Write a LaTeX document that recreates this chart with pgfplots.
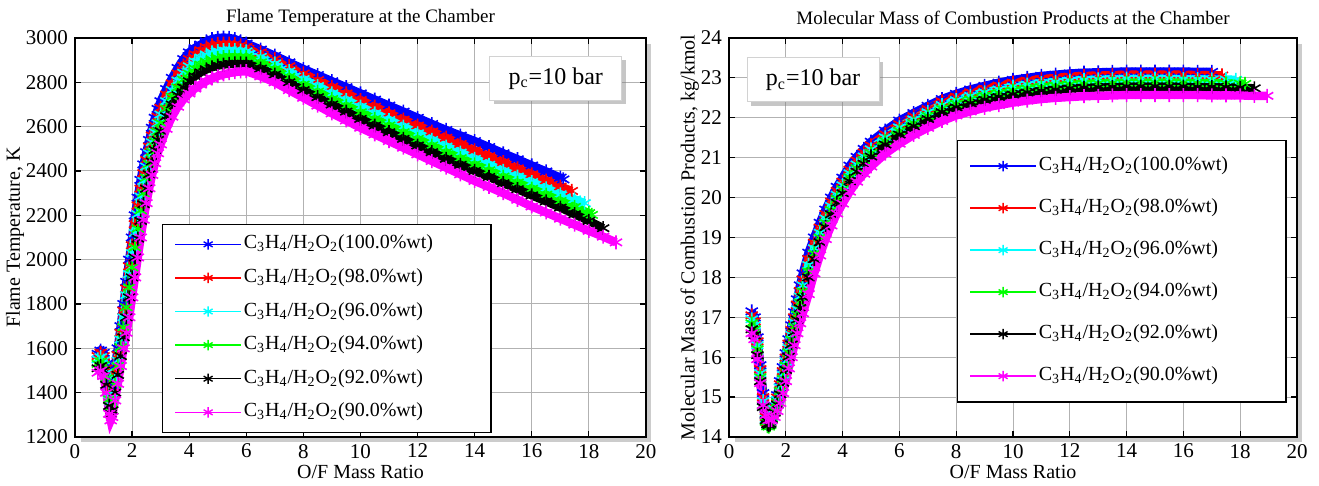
\documentclass[border=0pt]{standalone}
\usepackage{fontspec}
\setmainfont{Liberation Serif}
\usepackage{pgfplots}
\pgfplotsset{compat=1.18}
\usetikzlibrary{shadows}
\definecolor{mblue}{rgb}{0,0,1}
\definecolor{mred}{rgb}{1,0,0}
\definecolor{mcyan}{rgb}{0,1,1}
\definecolor{mgreen}{rgb}{0,1,0}
\definecolor{mblack}{rgb}{0,0,0}
\definecolor{mmag}{rgb}{1,0,1}
\newcommand{\ent}[1]{C\textsubscript{3}H\textsubscript{4}/H\textsubscript{2}O\textsubscript{2}(#1\%wt)\hspace*{22pt}}
\tikzset{frameshadow/.style={gray!40, line width=2pt}}
\pgfplotsset{
  oxstyle/.style={
    scale only axis, width=285.5pt, height=199.5pt,
    xmin=0, xmax=20, xtick={0,2,...,20},
    grid=major, grid style={gray!60, line width=0.5pt},
    axis line style={line width=0.8pt},
    tick style={black, line width=0.6pt},
    major tick length=3pt,
    tick label style={font=\fontsize{10.5}{11}\selectfont},
    /pgf/number format/assume math mode=true,
    /pgf/number format/1000 sep={},
    label style={font=\fontsize{10}{11}\selectfont},
    every axis title shift=0pt,
    title style={font=\fontsize{9.5}{10}\selectfont, at={(axis description cs:0.5,1.05)}, anchor=center},
    xlabel style={at={(axis description cs:0.5,-0.088)}, anchor=center},
    clip=false,
    every axis plot/.append style={line width=4.2pt, mark=asterisk, mark size=3.5pt, mark options={line width=0.8pt}},
    legend cell align=left,
    legend image code/.code={\draw[#1, line width=0.75pt, mark=none] (0pt,0pt) -- (33pt,0pt); \draw[#1, line width=0.75pt, mark size=2.6pt, mark options={line width=0.7pt}] plot coordinates {(16.5pt,0pt)};},
  },
}
\begin{document}
\begin{tikzpicture}
\path[use as bounding box] (-37.5pt,-24.5pt) rectangle (622pt,218.5pt);
\begin{axis}[oxstyle, at={(0pt,0pt)}, anchor=south west,
  ymin=1200, ymax=3000, ytick={1200,1400,...,3000},
  title={Flame Temperature at the Chamber},
  xlabel={O/F Mass Ratio}, ylabel={Flame Temperature, K},
  ylabel style={at={(axis description cs:-0.105,0.5)}, anchor=center},
  legend style={at={(axis description cs:0.152,0.534)}, anchor=north west, draw=black, line width=0.6pt, fill=white,
    font=\fontsize{10}{11}\selectfont, row sep=5pt, inner xsep=6pt, inner ysep=4pt,
    nodes={inner sep=1pt, text height=7.2pt, text depth=2.6pt}},
]
\draw[frameshadow] ([xshift=1.6pt,yshift=-3pt]rel axis cs:1,1) -- ([xshift=1.6pt,yshift=-1.6pt]rel axis cs:1,0) -- ([xshift=3pt,yshift=-1.6pt]rel axis cs:0,0);
\addplot[color=mblue] coordinates {
(0.8,1575)(0.9,1590)(1.0,1580)(1.1,1530)(1.2,1450)(1.25,1410)(1.3,1430)(1.4,1520)(1.5,1600)(1.6,1700)(1.7,1800)(1.8,1900)(1.9,2000)(2.0,2100)(2.1,2200)(2.2,2280)(2.3,2360)(2.4,2430)(2.5,2485)(2.6,2540)(2.7,2595)(2.8,2640)(2.9,2680)(3.0,2715)(3.2,2770)(3.4,2820)(3.6,2865)(3.8,2905)(4.0,2935)(4.2,2955)(4.4,2970)(4.6,2985)(4.8,2995)(5.0,3000)(5.2,3002)(5.4,3000)(5.6,2995)(5.8,2985)(6.0,2975)
(6.5,2948)(7,2920)(7.5,2890)(8,2860)(8.5,2833)(9,2805)(9.5,2778)(10,2750)(10.5,2722)(11,2695)(11.5,2668)(12,2640)(12.5,2612)(13,2585)(13.5,2560)(14,2535)(14.5,2508)(15,2480)(15.5,2453)(16,2425)(16.5,2398)(17,2370)(17.1,2362)};
\addlegendentry{\ent{100.0}}
\addplot[color=mred] coordinates {
(0.8,1565)(0.9,1580)(1.0,1565)(1.1,1510)(1.2,1420)(1.25,1385)(1.3,1400)(1.4,1490)(1.5,1570)(1.6,1670)(1.7,1770)(1.8,1870)(1.9,1970)(2.0,2065)(2.1,2160)(2.2,2245)(2.3,2320)(2.4,2390)(2.5,2450)(2.6,2510)(2.7,2560)(2.8,2605)(2.9,2645)(3.0,2685)(3.2,2745)(3.4,2795)(3.6,2840)(3.8,2875)(4.0,2905)(4.2,2927)(4.4,2945)(4.6,2958)(4.8,2967)(5.0,2973)(5.2,2975)(5.4,2975)(5.6,2972)(5.8,2967)(6.0,2960)
(6.5,2935)(7,2905)(7.5,2873)(8,2840)(8.5,2810)(9,2780)(9.5,2750)(10,2720)(10.5,2690)(11,2660)(11.5,2632)(12,2605)(12.5,2578)(13,2550)(13.5,2522)(14,2493)(14.5,2467)(15,2440)(15.5,2412)(16,2385)(16.5,2357)(17,2330)(17.4,2310)};
\addlegendentry{\ent{98.0}}
\addplot[color=mcyan] coordinates {
(0.8,1550)(0.9,1560)(1.0,1545)(1.1,1490)(1.2,1395)(1.25,1360)(1.3,1375)(1.4,1460)(1.5,1545)(1.6,1640)(1.7,1740)(1.8,1840)(1.9,1935)(2.0,2030)(2.1,2120)(2.2,2205)(2.3,2285)(2.4,2355)(2.5,2420)(2.6,2480)(2.7,2530)(2.8,2575)(2.9,2615)(3.0,2655)(3.2,2715)(3.4,2765)(3.6,2808)(3.8,2843)(4.0,2872)(4.2,2895)(4.4,2912)(4.6,2925)(4.8,2935)(5.0,2941)(5.2,2945)(5.4,2946)(5.6,2945)(5.8,2943)(6.0,2940)
(6.5,2915)(7,2885)(7.5,2850)(8,2815)(8.5,2783)(9,2750)(9.5,2720)(10,2690)(10.5,2660)(11,2630)(11.5,2600)(12,2570)(12.5,2540)(13,2510)(13.5,2483)(14,2455)(14.5,2428)(15,2400)(15.5,2375)(16,2350)(16.5,2322)(17,2295)(17.5,2272)(17.85,2255)};
\addlegendentry{\ent{96.0}}
\addplot[color=mgreen] coordinates {
(0.8,1530)(0.9,1540)(1.0,1525)(1.1,1465)(1.2,1370)(1.25,1335)(1.3,1350)(1.4,1435)(1.5,1520)(1.6,1605)(1.7,1695)(1.8,1785)(1.9,1875)(2.0,1965)(2.1,2055)(2.2,2140)(2.3,2222)(2.4,2300)(2.5,2370)(2.6,2432)(2.7,2487)(2.8,2535)(2.9,2578)(3.0,2617)(3.2,2682)(3.4,2735)(3.6,2777)(3.8,2812)(4.0,2840)(4.2,2862)(4.4,2880)(4.6,2893)(4.8,2903)(5.0,2910)(5.2,2914)(5.4,2916)(5.6,2916)(5.8,2916)(6.0,2915)
(6.5,2890)(7,2860)(7.5,2825)(8,2790)(8.5,2758)(9,2725)(9.5,2695)(10,2665)(10.5,2635)(11,2605)(11.5,2575)(12,2545)(12.5,2515)(13,2485)(13.5,2458)(14,2430)(14.5,2403)(15,2375)(15.5,2348)(16,2320)(16.5,2293)(17,2265)(17.5,2238)(18,2210)(18.1,2202)};
\addlegendentry{\ent{94.0}}
\addplot[color=mblack] coordinates {
(0.8,1510)(0.9,1520)(1.0,1500)(1.1,1435)(1.2,1340)(1.25,1305)(1.3,1320)(1.4,1400)(1.5,1480)(1.6,1565)(1.7,1650)(1.8,1740)(1.9,1830)(2.0,1920)(2.1,2010)(2.2,2095)(2.3,2175)(2.4,2250)(2.5,2320)(2.6,2385)(2.7,2443)(2.8,2495)(2.9,2540)(3.0,2580)(3.2,2647)(3.4,2700)(3.6,2742)(3.8,2777)(4.0,2805)(4.2,2827)(4.4,2845)(4.6,2858)(4.8,2868)(5.0,2875)(5.2,2880)(5.4,2883)(5.6,2885)(5.8,2885)(6.0,2884)
(6.5,2862)(7,2835)(7.5,2800)(8,2765)(8.5,2733)(9,2700)(9.5,2668)(10,2635)(10.5,2605)(11,2575)(11.5,2545)(12,2515)(12.5,2485)(13,2455)(13.5,2428)(14,2400)(14.5,2373)(15,2345)(15.5,2318)(16,2290)(16.5,2263)(17,2235)(17.5,2205)(18,2175)(18.5,2142)};
\addlegendentry{\ent{92.0}}
\addplot[color=mmag] coordinates {
(0.8,1490)(0.9,1500)(1.0,1475)(1.1,1400)(1.2,1305)(1.25,1275)(1.3,1290)(1.4,1365)(1.5,1440)(1.6,1520)(1.7,1600)(1.8,1670)(1.9,1740)(2.0,1830)(2.1,1920)(2.2,2010)(2.3,2100)(2.4,2180)(2.5,2255)(2.6,2322)(2.7,2382)(2.8,2435)(2.9,2480)(3.0,2520)(3.2,2590)(3.4,2645)(3.6,2690)(3.8,2723)(4.0,2750)(4.2,2772)(4.4,2790)(4.6,2805)(4.8,2818)(5.0,2828)(5.2,2836)(5.4,2842)(5.6,2846)(5.8,2849)(6.0,2850)
(6.5,2827)(7,2800)(7.5,2765)(8,2730)(8.5,2695)(9,2660)(9.5,2628)(10,2595)(10.5,2565)(11,2535)(11.5,2505)(12,2475)(12.5,2445)(13,2415)(13.5,2385)(14,2355)(14.5,2328)(15,2300)(15.5,2270)(16,2240)(16.5,2213)(17,2185)(17.5,2158)(18,2130)(18.5,2104)(18.95,2078)};
\addlegendentry{\ent{90.0}}
\node[draw=gray!35, line width=0.4pt, fill=white, drop shadow={opacity=0.45, shadow xshift=2pt, shadow yshift=-2pt}, minimum width=66pt, minimum height=22pt, font=\fontsize{12}{14}\selectfont] at (rel axis cs:0.842,0.899) {p\textsubscript{c}=10 bar};
\end{axis}
\begin{axis}[oxstyle, at={(327pt,0pt)}, anchor=south west, width=284pt,
  ymin=14, ymax=24, ytick={14,15,...,24},
  title={Molecular Mass of Combustion Products at the Chamber},
  xlabel={O/F Mass Ratio}, ylabel={Molecular Mass of Combustion Products, kg/kmol},
  ylabel style={at={(axis description cs:-0.069,0.5)}, anchor=center},
  legend style={at={(axis description cs:0.401,0.745)}, anchor=north west, draw=black, line width=0.6pt, fill=white,
    font=\fontsize{10}{11}\selectfont, row sep=9.2pt, inner xsep=6pt, inner ysep=7pt,
    nodes={inner sep=1pt, text height=7.2pt, text depth=2.6pt}},
]
\draw[frameshadow] ([xshift=1.6pt,yshift=-3pt]rel axis cs:1,1) -- ([xshift=1.6pt,yshift=-1.6pt]rel axis cs:1,0) -- ([xshift=3pt,yshift=-1.6pt]rel axis cs:0,0);
\addplot[color=mblue] coordinates {
(0.8,17.15)(0.9,17.0)(1.0,16.5)(1.1,15.8)(1.2,15.1)(1.3,14.55)(1.35,14.4)(1.4,14.35)(1.45,14.38)(1.5,14.5)(1.6,14.78)(1.7,15.05)(1.8,15.4)(1.9,15.75)(2.0,16.1)(2.1,16.45)(2.2,16.8)(2.3,17.13)(2.4,17.45)(2.5,17.8)(2.6,18.1)(2.8,18.62)(3.0,19.0)(3.2,19.37)(3.4,19.7)(3.6,20.0)(3.8,20.27)(4.0,20.5)(4.25,20.8)(4.5,21.02)(4.75,21.22)(5.0,21.4)(5.5,21.68)(6.0,21.93)(6.5,22.12)(7.0,22.3)(7.5,22.47)(8.0,22.6)(8.5,22.71)(9.0,22.8)(9.5,22.88)(10,22.95)(10.5,23.0)(11,23.05)(11.5,23.08)(12,23.11)(12.5,23.13)(13,23.14)(13.5,23.15)(14,23.16)(14.5,23.16)(15,23.16)(15.5,23.16)(16,23.16)(16.5,23.15)(17,23.15)};
\addlegendentry{\ent{100.0}}
\addplot[color=mred] coordinates {
(0.8,17.05)(0.9,16.9)(1.0,16.4)(1.1,15.7)(1.2,15.0)(1.3,14.5)(1.35,14.36)(1.4,14.33)(1.45,14.36)(1.5,14.49)(1.6,14.74)(1.7,14.99)(1.8,15.32)(1.9,15.65)(2.0,15.99)(2.1,16.34)(2.2,16.68)(2.3,17.0)(2.4,17.32)(2.5,17.66)(2.6,17.95)(2.8,18.46)(3.0,18.87)(3.2,19.25)(3.4,19.59)(3.6,19.9)(3.8,20.17)(4.0,20.4)(4.25,20.7)(4.5,20.93)(4.75,21.13)(5.0,21.31)(5.5,21.59)(6.0,21.84)(6.5,22.04)(7.0,22.22)(7.5,22.41)(8.0,22.53)(8.5,22.64)(9.0,22.73)(9.5,22.81)(10,22.88)(10.5,22.93)(11,22.97)(11.5,23.0)(12,23.03)(12.5,23.05)(13,23.06)(13.5,23.07)(14,23.08)(14.5,23.08)(15,23.08)(15.5,23.08)(16,23.08)(16.5,23.07)(17,23.07)(17.36,23.06)};
\addlegendentry{\ent{98.0}}
\addplot[color=mcyan] coordinates {
(0.8,16.95)(0.9,16.8)(1.0,16.3)(1.1,15.6)(1.2,14.9)(1.3,14.45)(1.35,14.32)(1.4,14.3)(1.45,14.34)(1.5,14.48)(1.6,14.7)(1.7,14.93)(1.8,15.24)(1.9,15.56)(2.0,15.89)(2.1,16.23)(2.2,16.56)(2.3,16.88)(2.4,17.2)(2.5,17.52)(2.6,17.8)(2.8,18.31)(3.0,18.73)(3.2,19.12)(3.4,19.48)(3.6,19.79)(3.8,20.07)(4.0,20.31)(4.25,20.61)(4.5,20.83)(4.75,21.03)(5.0,21.21)(5.5,21.51)(6.0,21.76)(6.5,21.96)(7.0,22.14)(7.5,22.32)(8.0,22.44)(8.5,22.55)(9.0,22.64)(9.5,22.71)(10,22.78)(10.5,22.83)(11,22.87)(11.5,22.9)(12,22.93)(12.5,22.95)(13,22.96)(13.5,22.97)(14,22.98)(14.5,22.98)(15,22.98)(15.5,22.98)(16,22.97)(16.5,22.97)(17,22.96)(17.5,22.96)(17.85,22.95)};
\addlegendentry{\ent{96.0}}
\addplot[color=mgreen] coordinates {
(0.8,16.85)(0.9,16.7)(1.0,16.2)(1.1,15.5)(1.2,14.8)(1.3,14.38)(1.35,14.27)(1.4,14.26)(1.45,14.3)(1.5,14.46)(1.6,14.65)(1.7,14.87)(1.8,15.15)(1.9,15.46)(2.0,15.79)(2.1,16.12)(2.2,16.44)(2.3,16.76)(2.4,17.07)(2.5,17.37)(2.6,17.65)(2.8,18.15)(3.0,18.6)(3.2,19.0)(3.4,19.37)(3.6,19.69)(3.8,19.97)(4.0,20.21)(4.25,20.51)(4.5,20.74)(4.75,20.94)(5.0,21.12)(5.5,21.42)(6.0,21.67)(6.5,21.87)(7.0,22.05)(7.5,22.23)(8.0,22.35)(8.5,22.46)(9.0,22.55)(9.5,22.62)(10,22.68)(10.5,22.73)(11,22.77)(11.5,22.8)(12,22.83)(12.5,22.85)(13,22.86)(13.5,22.87)(14,22.88)(14.5,22.88)(15,22.88)(15.5,22.88)(16,22.88)(16.5,22.87)(17,22.87)(17.5,22.86)(18,22.86)(18.17,22.85)};
\addlegendentry{\ent{94.0}}
\addplot[color=mblack] coordinates {
(0.8,16.7)(0.9,16.55)(1.0,16.05)(1.1,15.4)(1.2,14.75)(1.3,14.42)(1.35,14.32)(1.4,14.3)(1.45,14.33)(1.5,14.45)(1.6,14.61)(1.7,14.81)(1.8,15.07)(1.9,15.36)(2.0,15.68)(2.1,16.01)(2.2,16.32)(2.3,16.63)(2.4,16.94)(2.5,17.23)(2.6,17.5)(2.8,18.0)(3.0,18.46)(3.2,18.88)(3.4,19.26)(3.6,19.58)(3.8,19.87)(4.0,20.11)(4.25,20.41)(4.5,20.65)(4.75,20.85)(5.0,21.03)(5.5,21.33)(6.0,21.58)(6.5,21.79)(7.0,21.97)(7.5,22.14)(8.0,22.26)(8.5,22.36)(9.0,22.45)(9.5,22.52)(10,22.58)(10.5,22.63)(11,22.67)(11.5,22.7)(12,22.73)(12.5,22.75)(13,22.76)(13.5,22.77)(14,22.78)(14.5,22.78)(15,22.78)(15.5,22.78)(16,22.78)(16.5,22.77)(17,22.77)(17.5,22.76)(18,22.75)(18.5,22.74)};
\addlegendentry{\ent{92.0}}
\addplot[color=mmag] coordinates {
(0.8,16.6)(0.9,16.45)(1.0,15.95)(1.1,15.35)(1.2,14.8)(1.3,14.55)(1.4,14.42)(1.5,14.42)(1.6,14.5)(1.7,14.65)(1.8,14.85)(1.9,15.1)(2.0,15.4)(2.1,15.72)(2.2,16.0)(2.3,16.3)(2.4,16.6)(2.5,16.85)(2.6,17.1)(2.8,17.58)(3.0,18.1)(3.2,18.55)(3.4,18.96)(3.6,19.3)(3.8,19.6)(4.0,19.85)(4.25,20.15)(4.5,20.4)(4.75,20.6)(5.0,20.78)(5.5,21.1)(6.0,21.35)(6.5,21.57)(7.0,21.75)(7.5,21.92)(8.0,22.06)(8.5,22.16)(9.0,22.25)(9.5,22.32)(10,22.38)(10.5,22.43)(11,22.47)(11.5,22.5)(12,22.52)(12.5,22.54)(13,22.55)(13.5,22.56)(14,22.57)(14.5,22.57)(15,22.57)(15.5,22.57)(16,22.57)(16.5,22.57)(17,22.56)(17.5,22.56)(18,22.56)(18.5,22.55)(18.95,22.55)};
\addlegendentry{\ent{90.0}}
\node[draw=gray!35, line width=0.4pt, fill=white, drop shadow={opacity=0.45, shadow xshift=2pt, shadow yshift=-2pt}, minimum width=66pt, minimum height=22pt, font=\fontsize{12}{14}\selectfont] at (rel axis cs:0.148,0.895) {p\textsubscript{c}=10 bar};
\end{axis}
\end{tikzpicture}
\end{document}
